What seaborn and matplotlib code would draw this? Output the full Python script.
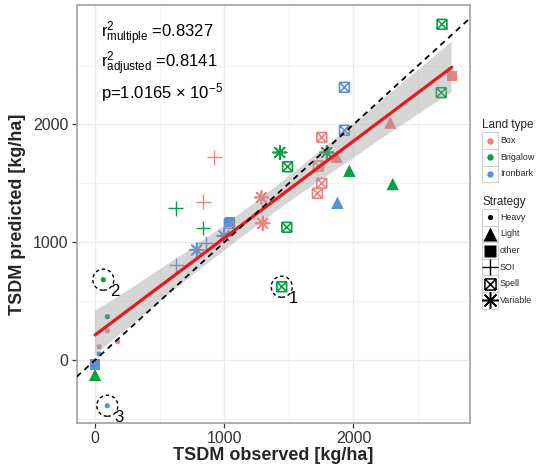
import numpy as np
import pandas as pd
import matplotlib
matplotlib.use("Agg")
import matplotlib.pyplot as plt
import seaborn as sns
from matplotlib.path import Path
from matplotlib.patches import Rectangle
from matplotlib.lines import Line2D

# ---------------- data ----------------
observed = [2760, 2685, 2680, 1930, 1930, 1755, 2285, 1430, 1793, 1870,
            1490, 1729, 1968, 2304, 1755, 1721, 1876, 1288, 924, 838,
            624, 834, 1045, 1040, 1298, 1484, 998, 855, 787, 630,
            1445, 64, 95, 95, 175, 31, 31, 0, 0, 95]
predicted = [2410, 2850, 2270, 2315, 1950, 1890, 2015, 1762, 1762, 1726,
             1641, 1647, 1607, 1494, 1500, 1415, 1335, 1380, 1721, 1344,
             1287, 1122, 1174, 1160, 1160, 1127, 1055, 993, 934, 806,
             622, 682, 368, 249, 156, 113, 51, -37, -127, -388]
land_type = ["Box", "Brigalow", "Brigalow", "Ironbark", "Ironbark", "Box", "Box", "Brigalow", "Brigalow", "Box",
             "Brigalow", "Box", "Brigalow", "Brigalow", "Box", "Box", "Ironbark", "Box", "Box", "Box",
             "Brigalow", "Brigalow", "Ironbark", "Ironbark", "Box", "Brigalow", "Ironbark", "Ironbark", "Ironbark", "Ironbark",
             "Brigalow", "Brigalow", "Brigalow", "Box", "Box", "Box", "Ironbark", "Ironbark", "Brigalow", "Ironbark"]
strategy = ["other", "Spell", "Spell", "Spell", "Spell", "Spell", "Light", "Variable", "Variable", "Light",
            "Spell", "Spell", "Light", "Light", "Spell", "Spell", "Light", "Variable", "SOI", "SOI",
            "SOI", "SOI", "other", "Spell", "Variable", "Spell", "Variable", "SOI", "Variable", "SOI",
            "Spell", "Heavy", "Heavy", "Heavy", "Heavy", "Heavy", "Heavy", "other", "Light", "Heavy"]

land_levels = ["Box", "Brigalow", "Ironbark"]
strategy_levels = ["Heavy", "Light", "other", "SOI", "Spell", "Variable"]
land_colors = ["#F28080", "#0A9E46", "#5B8FD8"]

outlier_obs = [1445, 64, 95]
outlier_pred = [622, 682, -388]
outlier_labels = ["1", "2", "3"]

stat_lines = [r"$r^{2}_{multiple}$ =0.8327",
              r"$r^{2}_{adjusted}$ =0.8141",
              r"p=1.0165 $\times$ 10$^{-5}$"]

x_ticks = [0, 1000, 2000]
y_ticks = [0, 1000, 2000]

df = pd.DataFrame({"observed": observed, "predicted": predicted,
                   "land": land_type, "strategy": strategy})

# ---------------- style ----------------
sns.set_theme(style="white")
plt.rcParams["font.family"] = ["Liberation Sans", "DejaVu Sans"]
plt.rcParams["mathtext.fontset"] = "custom"
plt.rcParams["mathtext.rm"] = "Liberation Sans"
plt.rcParams["mathtext.it"] = "Liberation Sans:italic"
plt.rcParams["mathtext.default"] = "regular"

W, H = 536, 467
fig = plt.figure(figsize=(W / 100, H / 100), dpi=100)
ax = fig.add_axes([76.7 / W, 1 - 422.7 / H, (470 - 76.7) / W, (422.7 - 5) / H])

palette = dict(zip(land_levels, land_colors))

# spell marker: square with an X (line segments only)
sv = [(-1, -1), (1, -1), (1, -1), (1, 1), (1, 1), (-1, 1), (-1, 1), (-1, -1),
      (-1, -1), (1, 1), (-1, 1), (1, -1)]
spell_marker = Path(sv, [Path.MOVETO, Path.LINETO] * 6)

marker_spec = {
    "Heavy": dict(marker="o", s=14, edgecolor="none"),
    "Light": dict(marker="^", s=80, edgecolor="none"),
    "other": dict(marker="s", s=55, edgecolor="none"),
    "SOI": dict(marker="+", s=110, linewidth=1.0),
    "Spell": dict(marker=spell_marker, s=50, edgecolor="face", linewidth=1.2),
    "Variable": dict(marker=(8, 2, 0), s=95, linewidth=1.2),
}

for strat in strategy_levels:
    sub = df[df["strategy"] == strat]
    sns.scatterplot(data=sub, x="observed", y="predicted", hue="land",
                    hue_order=land_levels, palette=palette, legend=False,
                    ax=ax, zorder=2, **marker_spec[strat])

# regression line with confidence band
sns.regplot(data=df, x="observed", y="predicted", scatter=False, ci=95,
            n_boot=2000, seed=3, color="#E8191C", truncate=True,
            line_kws=dict(lw=2.3, zorder=4), ax=ax)
band = ax.collections[-1]
band.set_facecolor("#999999")
band.set_alpha(0.4)
band.set_edgecolor("none")
band.set_zorder(3)

# 1:1 line
ax.axline((0, 0), slope=1, color="black", lw=1.3, dashes=(3.2, 2.6), zorder=5)

# outlier circles and labels
ax.scatter(outlier_obs, outlier_pred, s=230, facecolors="none",
           edgecolors="black", linestyle=(0, (2.5, 2)), linewidths=1.0, zorder=6)
for ox, oy, lab in zip(outlier_obs, outlier_pred, outlier_labels):
    ax.annotate(lab, (ox, oy), xytext=(5, -11.5), textcoords="offset points",
                fontsize=12, color="black", zorder=6)

# axes styling
ax.set_xlim(-142, 2902)
ax.set_ylim(-532, 3014)
ax.set_xticks(x_ticks)
ax.set_yticks(y_ticks)
ax.set_xticks([500, 1500, 2500], minor=True)
ax.set_yticks([-500, 500, 1500, 2500], minor=True)
ax.grid(True, which="major", color="#EBEBEB", lw=1.0, zorder=0)
ax.grid(True, which="minor", color="#F2F2F2", lw=0.6, zorder=0)
ax.set_axisbelow(True)
ax.tick_params(axis="both", which="major", length=3.5, width=0.9, color="#333333",
               labelsize=11.5, labelcolor="#333333", pad=2.5, bottom=True, left=True)
ax.tick_params(axis="both", which="minor", length=0)
for sp in ax.spines.values():
    sp.set_color("#A8A8A8")
    sp.set_linewidth(1.3)
ax.set_xlabel("TSDM observed [kg/ha]", fontsize=13, fontweight="bold", labelpad=1)
ax.set_ylabel("TSDM predicted [kg/ha]", fontsize=13, fontweight="bold", labelpad=5)

# ---------------- overlay (pixel coordinates) ----------------
ov = fig.add_axes([0, 0, 1, 1])
ov.set_xlim(0, W)
ov.set_ylim(H, 0)
ov.axis("off")
ov.patch.set_alpha(0)

for txt, yb in zip(stat_lines, [38, 68, 98]):
    ov.text(101, yb, txt, fontsize=12, color="black", va="baseline", ha="left")

# legend
def key_box(yc):
    ov.add_patch(Rectangle((482, yc - 8.3), 16, 16.6, facecolor="white",
                           edgecolor="#D0D0D0", lw=0.8))

ov.text(482.5, 128, "Land type", fontsize=8.5, va="baseline", ha="left")
for lab, col, yc in zip(land_levels, land_colors, [140.7, 157.3, 174]):
    key_box(yc)
    ov.plot([490], [yc], marker="o", ms=4.6, color=col, mec="none")
    ov.text(500, yc, lab, fontsize=6.4, va="center", ha="left")

ov.text(482.5, 205, "Strategy", fontsize=8.5, va="baseline", ha="left")
leg_markers = {
    "Heavy": dict(marker="o", ms=3.8, mec="none"),
    "Light": dict(marker="^", ms=10, mec="none"),
    "other": dict(marker="s", ms=8.5, mec="none"),
    "SOI": dict(marker="+", ms=12, mew=1.0),
    "Spell": dict(marker=spell_marker, ms=8.0, mew=1.1, mfc="none"),
    "Variable": dict(marker=(8, 2, 0), ms=12, mew=1.1),
}
for lab, yc in zip(strategy_levels, [217.3, 234, 250.5, 267.2, 283.6, 300.2]):
    key_box(yc)
    ov.plot([490], [yc], color="black", **leg_markers[lab])
    ov.text(500, yc, lab, fontsize=6.4, va="center", ha="left")

fig.savefig("out.png", dpi=100)
